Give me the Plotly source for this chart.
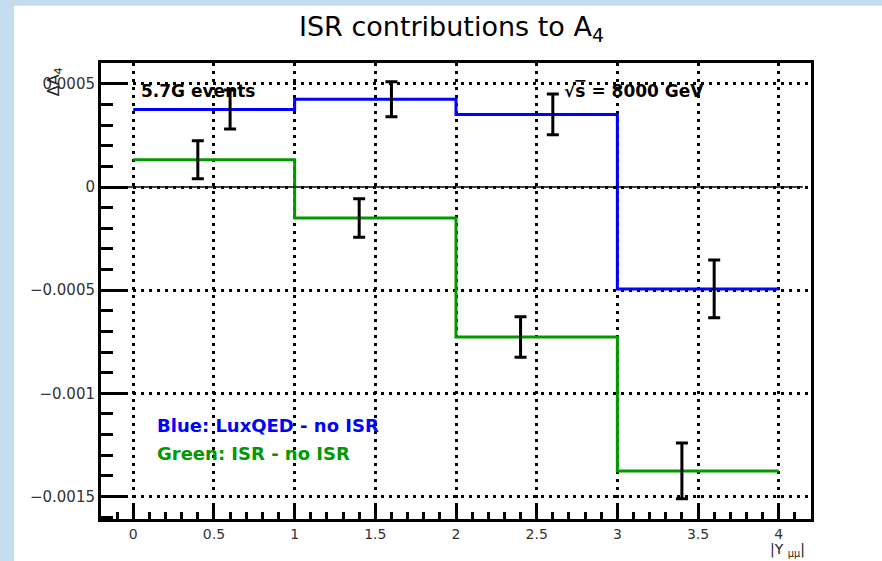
import plotly.graph_objects as go

# Histogram binning in |Y_mumu| and the two A4 difference histograms
bin_edges = [0.0, 1.0, 2.0, 3.0, 4.0]
blue_values = [0.000376, 0.000425, 0.000352, -0.000494]   # LuxQED - no ISR
blue_errors = [0.0000945, 0.000085, 0.0000993, 0.00014]
green_values = [0.000132, -0.000150, -0.000727, -0.001376]  # ISR - no ISR
green_errors = [0.000092, 0.000093, 0.0000986, 0.000135]

# Error bars are drawn slightly off the bin centre for each series
blue_err_x = [0.6, 1.6, 2.6, 3.6]
green_err_x = [0.4, 1.4, 2.4, 3.4]

y_tick_values = [0.0005, 0.0, -0.0005, -0.001, -0.0015]
y_tick_labels = ["0.0005", "0", "\u22120.0005", "\u22120.001", "\u22120.0015"]
x_tick_values = [0, 0.5, 1, 1.5, 2, 2.5, 3, 3.5, 4]
x_tick_labels = ["0", "0.5", "1", "1.5", "2", "2.5", "3", "3.5", "4"]

zero_line_x = [-0.17, 4.15]

BLUE = "#0000ff"
GREEN = "#009900"
FONT = "DejaVu Sans"

fig = go.Figure()

# step histograms (last value repeated so the final bin is closed at x=4)
fig.add_trace(go.Scatter(
    x=bin_edges, y=green_values + [green_values[-1]],
    mode="lines", line=dict(color=GREEN, width=3, shape="hv"),
    hoverinfo="skip", showlegend=False))
fig.add_trace(go.Scatter(
    x=bin_edges, y=blue_values + [blue_values[-1]],
    mode="lines", line=dict(color=BLUE, width=3, shape="hv"),
    hoverinfo="skip", showlegend=False))

# statistical error bars in black
for xs, ys, es in [(green_err_x, green_values, green_errors),
                   (blue_err_x, blue_values, blue_errors)]:
    fig.add_trace(go.Scatter(
        x=xs, y=ys, mode="markers",
        marker=dict(size=1, color="black", opacity=0),
        error_y=dict(type="data", array=es, visible=True,
                     color="black", thickness=3, width=6),
        hoverinfo="skip", showlegend=False))

# thin solid line at zero
fig.add_shape(type="line", xref="x", yref="y",
              x0=zero_line_x[0], x1=zero_line_x[1], y0=0, y1=0,
              line=dict(color="black", width=1.5))

# light-blue slide border on the left and top edges
fig.add_shape(type="rect", xref="paper", yref="paper",
              x0=-0.1423, x1=-0.1225, y0=-0.093, y1=1.14,
              fillcolor="#c5dcf0", line_width=0, layer="below")
fig.add_shape(type="rect", xref="paper", yref="paper",
              x0=-0.1423, x1=1.11, y0=1.1257, y1=1.14,
              fillcolor="#c5dcf0", line_width=0, layer="below")

annotations = [
    dict(text="ISR contributions to A<sub>4</sub>", x=0.494, y=1.075,
         xanchor="center", yanchor="middle",
         font=dict(family=FONT, size=27, color="black")),
    dict(text="<b>5.7G events</b>", x=0.0535, y=0.9386,
         xanchor="left", yanchor="middle",
         font=dict(family=FONT, size=17, color="black")),
    dict(text="<b>\u221a<span style='text-decoration:overline'>s</span> = 8000 GeV</b>",
         x=0.649, y=0.9386, xanchor="left", yanchor="middle",
         font=dict(family=FONT, size=17, color="black")),
    dict(text="<b>Blue: LuxQED - no ISR</b>", x=0.076, y=0.204,
         xanchor="left", yanchor="middle",
         font=dict(family=FONT, size=18, color=BLUE)),
    dict(text="<b>Green: ISR - no ISR</b>", x=0.076, y=0.1447,
         xanchor="left", yanchor="middle",
         font=dict(family=FONT, size=18, color=GREEN)),
    dict(text="\u0394A<sub>4</sub>", x=-0.066, y=0.958, textangle=-90,
         xanchor="center", yanchor="middle",
         font=dict(family=FONT, size=16, color="#222")),
    dict(text="|Y <sub>\u03bc\u03bc</sub>|", x=0.9944, y=-0.069,
         xanchor="right", yanchor="middle",
         font=dict(family=FONT, size=14, color="#222")),
]
for a in annotations:
    a.update(xref="paper", yref="paper", showarrow=False)
fig.update_layout(annotations=annotations)

fig.update_xaxes(
    range=[-0.2, 4.2], tickvals=x_tick_values, ticktext=x_tick_labels,
    showline=True, linecolor="black", linewidth=3, mirror=True,
    ticks="inside", ticklen=14, tickwidth=3, tickcolor="black",
    minor=dict(dtick=0.1, ticks="inside", ticklen=7, tickwidth=3,
               tickcolor="black", showgrid=False),
    showgrid=True, gridcolor="black", gridwidth=3, griddash="3px,5px",
    zeroline=False,
    tickfont=dict(family=FONT, size=14, color="#333"))
fig.update_yaxes(
    range=[-0.001609, 0.000601], tickvals=y_tick_values, ticktext=y_tick_labels,
    showline=True, linecolor="black", linewidth=3, mirror=True,
    ticks="inside", ticklen=26, tickwidth=3, tickcolor="black",
    minor=dict(dtick=0.0001, ticks="inside", ticklen=12, tickwidth=3,
               tickcolor="black", showgrid=False),
    showgrid=True, gridcolor="black", gridwidth=3, griddash="3px,5px",
    zeroline=False,
    tickfont=dict(family=FONT, size=15, color="#333"))

fig.update_layout(
    width=882, height=561,
    margin=dict(l=101, r=71, t=63, b=42),
    paper_bgcolor="white", plot_bgcolor="white",
    showlegend=False)

fig.write_html("out.html")
